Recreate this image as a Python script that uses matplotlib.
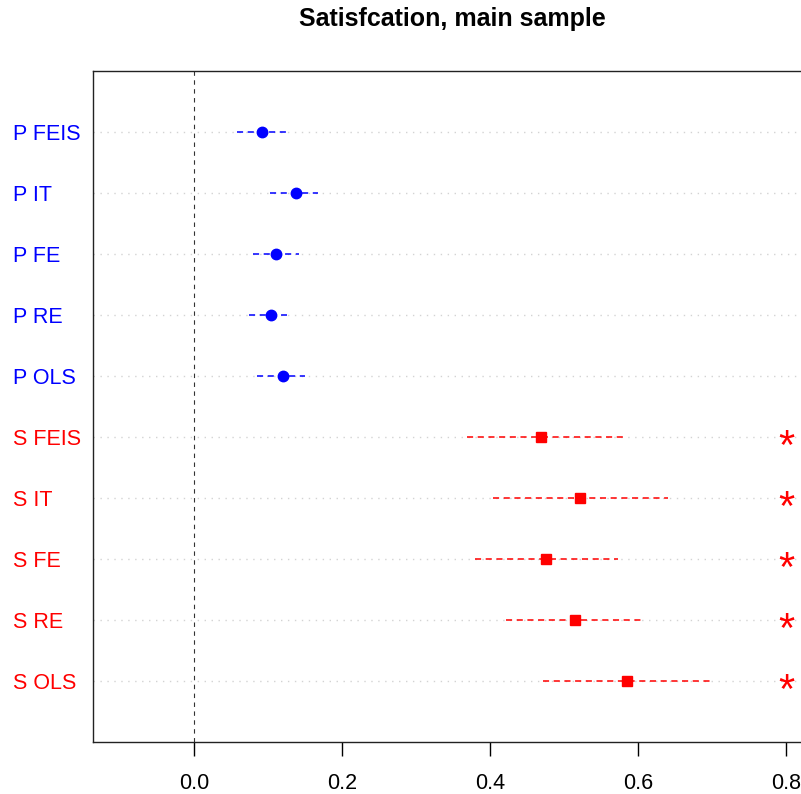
import matplotlib
matplotlib.use("Agg")
import matplotlib.pyplot as plt
import matplotlib.transforms as mtransforms

# model labels, top to bottom
labels = ["P FEIS", "P IT", "P FE", "P RE", "P OLS",
          "S FEIS", "S IT", "S FE", "S RE", "S OLS"]
# point estimates and confidence bounds
est = [0.092, 0.138, 0.111, 0.104, 0.120,
       0.469, 0.522, 0.476, 0.515, 0.585]
lower = [0.058, 0.103, 0.080, 0.074, 0.085,
         0.369, 0.404, 0.380, 0.422, 0.472]
upper = [0.124, 0.168, 0.142, 0.126, 0.150,
         0.581, 0.641, 0.573, 0.605, 0.699]
# significance stars
signif = [False] * 5 + [True] * 5
xticks = [0.0, 0.2, 0.4, 0.6, 0.8]

plt.rcParams['font.family'] = ['Liberation Sans', 'DejaVu Sans']

fig = plt.figure(figsize=(8.01, 7.94), dpi=100)
W, H = 801, 794
left, right, top, bottom = 93, 811, 71, 742
ax = fig.add_axes([left / W, 1 - bottom / H, (right - left) / W, (bottom - top) / H])

pos = list(range(1, len(labels) + 1))

# dotted grid rows
for p in pos:
    ax.axhline(p, color='#d3d3d3', lw=1, ls=(0, (1, 4)), zorder=1)

ax.axvline(0, color='#333333', lw=0.8, ls=(0, (4, 4)), zorder=1)

# shift text so the glyphs sit centred on the row
star_off = ax.transData + mtransforms.ScaledTranslation(0, -15.5 / 72, fig.dpi_scale_trans)

for p, lab, e, lo, hi, s in zip(pos, labels, est, lower, upper, signif):
    col = '#0000FF' if lab.startswith('P') else '#FF0000'
    mk = 'o' if lab.startswith('P') else 's'
    ax.plot([lo, hi], [p, p], color=col, lw=1.1, ls=(0, (4, 3)), zorder=2)
    ax.plot(e, p, marker=mk, color=col, markersize=7.5, zorder=3)
    if s:
        ax.text(0.8, p, "*", color=col, fontsize=30, ha='center', va='baseline',
                transform=star_off, zorder=3)

trans = mtransforms.blended_transform_factory(fig.transFigure, ax.transData)
trans = trans + mtransforms.ScaledTranslation(0, -5.6 / 72, fig.dpi_scale_trans)
for p, lab in zip(pos, labels):
    col = '#0000FF' if lab.startswith('P') else '#FF0000'
    ax.text(13 / W, p, lab, color=col, fontsize=15.5, ha='left', va='baseline',
            transform=trans, clip_on=False)

ax.set_ylim(11, 0)
ax.set_xlim(-0.1365, (right - 194) / 740)
ax.set_yticks([])
ax.set_xticks(xticks)
ax.set_xticklabels([f"{t:.1f}" for t in xticks])
ax.tick_params(axis='x', length=10, width=1, pad=12, labelsize=15.5, direction='out')
for sp in ax.spines.values():
    sp.set_linewidth(1)
    sp.set_color('#222222')

fig.text(452 / W, 1 - 19 / H, "Satisfcation, main sample", fontsize=18,
         fontweight='bold', ha='center', va='center')

fig.savefig("out.png", dpi=100)
